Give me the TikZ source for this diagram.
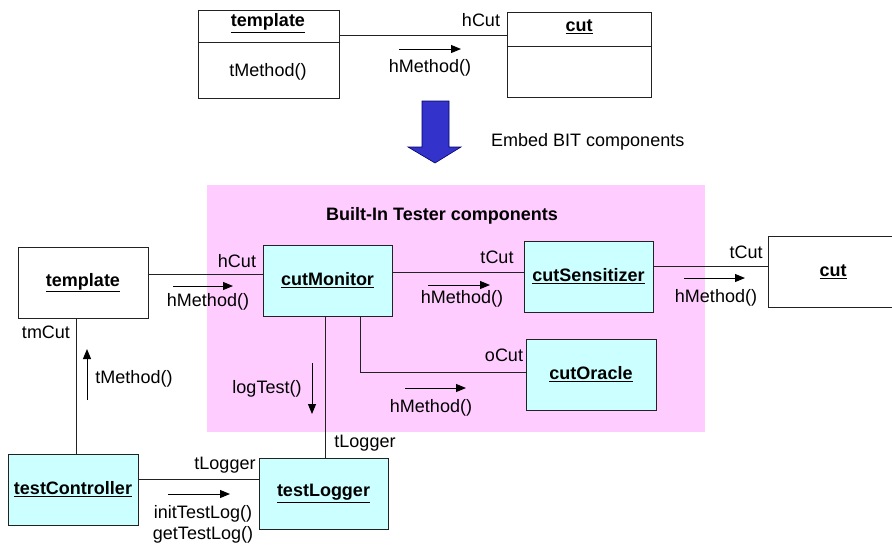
\documentclass[tikz,border=0pt]{standalone}
\usepackage{fontspec}
\setmainfont{Liberation Sans}
\usetikzlibrary{arrows.meta}
\definecolor{pinkbg}{HTML}{FFCCFF}
\definecolor{cyanbox}{HTML}{CCFFFF}
\definecolor{bluearr}{HTML}{3333CC}
\definecolor{lineclr}{HTML}{222222}
\begin{document}
\begin{tikzpicture}[x=1pt,y=-1pt,
  every node/.style={font=\fontsize{18}{21}\selectfont, inner sep=0pt},
  classbox/.style={draw=lineclr, line width=1pt, fill=white, minimum width=130pt, minimum height=71pt, font=\fontsize{18}{21}\selectfont\bfseries},
  bitbox/.style={classbox, fill=cyanbox, minimum width=129pt},
  conn/.style={draw=lineclr, line width=1pt},
  msg/.style={draw=black, line width=1pt, -{Triangle[length=10pt,width=8pt]}},
  lbl/.style={anchor=center}
]
\clip (0,0) rectangle (892,550);
\fill[white] (0,0) rectangle (892,550);

% ---------- top part ----------
\node[draw=lineclr, line width=1pt, minimum width=141pt, minimum height=88pt] (ttemplate) at (268.5,54) {};
\node[draw=lineclr, line width=1pt, minimum width=144pt, minimum height=85pt] (tcut) at (579,54.5) {};
\draw[conn] (ttemplate.west |- 0,42) -- (ttemplate.east |- 0,42);
\draw[conn] (tcut.west |- 0,46) -- (tcut.east |- 0,46);
\node[font=\fontsize{18}{21}\selectfont\bfseries] (ttemplatetitle) at (268,23) {\underline{template}};
\node (ttmethod) at (268,72) {tMethod()};
\node[font=\fontsize{18}{21}\selectfont\bfseries] (tcuttitle) at (579,27) {\underline{cut}};
\draw[conn] (ttemplate.east |- 0,35) -- (tcut.west |- 0,35);
\node (thcut) at (481,20) {hCut};
\draw[msg] (399,49) -- (461,49);
\node (thmethod) at (430,68) {hMethod()};

% big blue arrow
\draw[fill=bluearr, draw=blue!40!black, line width=0.6pt]
  (422,101) -- (449,101) -- (449,147) -- (461,147) -- (435,163) -- (408,147) -- (422,147) -- cycle;
\node[anchor=west] (embed) at (491,142) {Embed BIT components};

% ---------- BIT area ----------
\fill[pinkbg] (207,185) rectangle (705,432);
\node[font=\fontsize{18}{21}\selectfont\bfseries] (bittitle) at (442,216) {Built-In Tester components};

\node[classbox] (template) at (83,282.5) {\underline{template}};
\node[bitbox] (monitor) at (327.5,280.5) {\underline{cutMonitor}};
\node[bitbox] (sensitizer) at (588.5,276.5) {\underline{cutSensitizer}};
\node[bitbox, minimum width=130pt] (oracle) at (591,374.5) {\underline{cutOracle}};
\node[classbox] (cut) at (833,271.5) {\underline{cut}};
\node[bitbox, minimum width=130pt] (controller) at (73,489.5) {\underline{testController}};
\node[bitbox] (logger) at (323.5,493.5) {\underline{testLogger}};

% connectors
\draw[conn] (template.east |- 0,274) -- (monitor.west |- 0,274);
\draw[conn] (monitor.east |- 0,272) -- (sensitizer.west |- 0,272);
\draw[conn] (sensitizer.east |- 0,266) -- (cut.west |- 0,266);
\draw[conn] (template.south -| 76,0) -- (controller.north -| 76,0);
\draw[conn] (monitor.south -| 325,0) -- (logger.north -| 325,0);
\draw[conn] (monitor.south -| 360,0) -- (360,372) -- (oracle.west |- 0,372);
\draw[conn] (controller.east |- 0,479) -- (logger.west |- 0,479);

% message arrows
\draw[msg] (173,286) -- (233,286);
\draw[msg] (428,285) -- (490,285);
\draw[msg] (684,278) -- (745,278);
\draw[msg] (405,388) -- (466,388);
\draw[msg] (87,400) -- (87,349);
\draw[msg] (312,363) -- (312,414);
\draw[msg] (168,494) -- (230,494);

% labels
\node (lhcut) at (237,261) {hCut};
\node (lhm1) at (208,302) {hMethod()};
\node (ltcut1) at (497,257) {tCut};
\node (lhm2) at (462,299) {hMethod()};
\node (ltcut2) at (746,252) {tCut};
\node (lhm3) at (716,298) {hMethod()};
\node (locut) at (504,355) {oCut};
\node (lhm4) at (431,408) {hMethod()};
\node (ltmcut) at (46,332) {tmCut};
\node (ltm) at (134,379) {tMethod()};
\node (llog) at (267,389) {logTest()};
\node (ltlog1) at (365,443) {tLogger};
\node (ltlog2) at (225,465) {tLogger};
\node (linit) at (203,514) {initTestLog()};
\node (lget) at (203,535) {getTestLog()};
\end{tikzpicture}
\end{document}
